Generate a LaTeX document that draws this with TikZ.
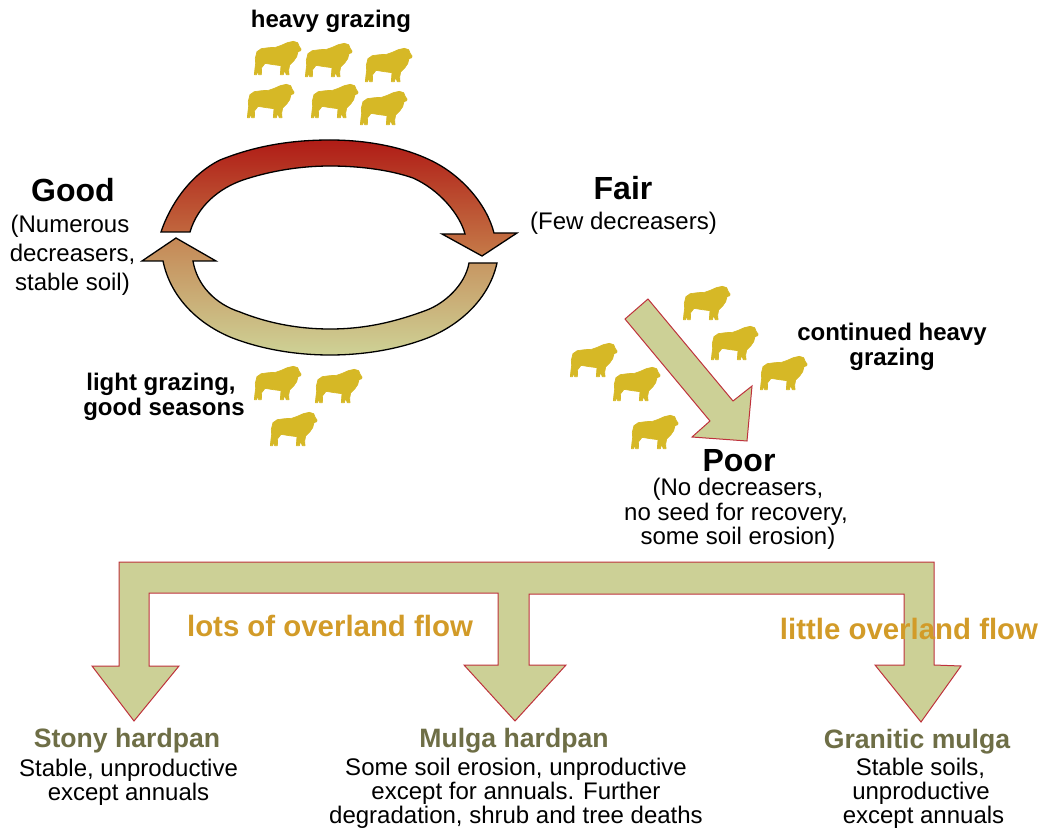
\documentclass[tikz,border=0pt]{standalone}
\usepackage{fontspec}
\setmainfont{Liberation Sans}
\definecolor{sheepc}{RGB}{214,184,38}
\definecolor{armc}{RGB}{204,208,150}
\definecolor{armline}{RGB}{190,50,60}
\definecolor{flowc}{RGB}{210,155,40}
\definecolor{soilc}{RGB}{110,110,70}
\definecolor{loopa}{RGB}{176,28,22}
\definecolor{loopb}{RGB}{197,122,72}
\definecolor{loopc}{RGB}{197,135,85}
\definecolor{loopd}{RGB}{206,210,150}
\tikzset{
  x=1pt,y=-1pt,
  sheep/.pic={
    \filldraw[sheepc,line width=0.7pt,line join=round,x=0.3333pt,y=-0.3333pt] (1,-1) -- (3,-20) -- (5,-35) -- (4,-50) -- (9,-70) -- (22,-79) -- (45,-82) -- (65,-83) -- (82,-89) -- (100,-97) -- (118,-101) -- (131,-97) -- (136,-85) -- (141,-78) -- (140,-73) -- (132,-70) -- (128,-55) -- (119,-42) -- (107,-30) -- (104,-15) -- (105,-1) -- (97,-1) -- (92,-14) -- (88,-1) -- (79,-1) -- (81,-28) -- (58,-31) -- (33,-35) -- (23,-22) -- (22,-1) -- (14,-1) -- (11,-13) -- (8,-1) -- cycle;
  },
  bodytext/.style={inner sep=0pt,align=center,font=\fontsize{24}{24}\selectfont},
  widetext/.style={inner sep=0pt,align=center,font=\fontsize{24}{29}\selectfont},
  boldtext/.style={inner sep=0pt,align=center,font=\bfseries\fontsize{24}{24.5}\selectfont},
  statetext/.style={inner sep=0pt,font=\bfseries\fontsize{32}{36}\selectfont},
  flowtext/.style={inner sep=0pt,text=flowc,font=\bfseries\fontsize{29.4}{32}\selectfont},
  soiltext/.style={inner sep=0pt,text=soilc,font=\bfseries\fontsize{26.6}{30}\selectfont},
  flowarrow/.style={fill=armc,draw=armline,line width=1pt,line join=miter},
  looparrow/.style={draw=black,line width=1.3pt,line join=miter},
}
\begin{document}
\begin{tikzpicture}
\useasboundingbox (0,0) rectangle (1053,829);
% loop arrows
\shadedraw[looparrow,top color=loopa,bottom color=loopb]
  (161,232) .. controls (170,205) and (190,175) .. (220,160)
  .. controls (255,146) and (290,140) .. (330,140)
  .. controls (370,140) and (405,148) .. (430,160)
  .. controls (462,175) and (487,205) .. (494,233)
  -- (517,233) -- (482,256) -- (442,234) -- (465,234)
  .. controls (460,215) and (440,190) .. (413,178)
  .. controls (390,170) and (360,166) .. (330,166)
  .. controls (300,166) and (270,171) .. (243,180)
  .. controls (220,188) and (198,205) .. (190,232) -- cycle;
\shadedraw[looparrow,top color=loopc,bottom color=loopd]
  (497,263) -- (469,263)
  .. controls (465,285) and (445,303) .. (427,310)
  .. controls (395,322) and (365,329) .. (330,329)
  .. controls (295,329) and (265,322) .. (240,312)
  .. controls (215,304) and (197,285) .. (193,261)
  -- (216,261) -- (176,238) -- (142,261) -- (163,261)
  .. controls (170,295) and (195,322) .. (230,337)
  .. controls (260,349) and (295,355) .. (330,355)
  .. controls (365,355) and (400,349) .. (430,337)
  .. controls (465,322) and (490,295) .. (497,263) -- cycle;
% sheep
\foreach \px/\py in {254/75,305/77,365/82,247/118,311/118,360/125,
                     254/400,315/403,270/446,
                     683/320,711/360,760/390,570/377,613/401,631/449}
  \pic at (\px,\py) {sheep};
% flow arrows
\draw[flowarrow] (625,319) -- (648,299) -- (733,401) -- (752,386) -- (747,441) -- (692,437) -- (710,421) -- cycle;
\draw[flowarrow] (119,562) -- (934,562) -- (934,665) -- (961,666) -- (921,722) -- (875,665) -- (904,665) -- (904,594) -- (529,594) -- (529,665) -- (566,665) -- (515,721) -- (464,665) -- (498,665) -- (498,593) -- (149,593) -- (149,666) -- (179,666) -- (134,721) -- (92,666) -- (119,666) -- cycle;
% texts
\node[boldtext] (heavy) at (331,21) {heavy grazing};
\node[statetext] (good) at (73,190) {Good};
\node[widetext] (goodsub) at (72.5,255) {(Numerous\kern5pt\\decreasers,\\stable soil)};
\node[statetext] (fair) at (623,188) {Fair};
\node[bodytext] (fairsub) at (623.5,223) {(Few decreasers)};
\node[boldtext] (light) at (164,397) {light grazing,\kern6pt\\good seasons};
\node[boldtext] (cont) at (892,347) {continued heavy\\grazing};
\node[statetext] (poor) at (739,461) {Poor};
\node[bodytext,font=\fontsize{24}{24.5}\selectfont] (poorsub) at (736,514) {\hspace{4pt}(No decreasers,\\no seed for recovery,\\\hspace{4pt}some soil erosion)};
\node[flowtext] (lots) at (330,626) {lots of overland flow};
\node[flowtext] (little) at (909,629) {little overland flow};
\node[soiltext] (stony) at (127,741) {Stony hardpan};
\node[bodytext] (stonysub) at (128.5,782) {Stable, unproductive\\except annuals};
\node[soiltext] (mulga) at (514,741) {Mulga hardpan};
\node[bodytext] (mulgasub) at (516,793) {Some soil erosion, unproductive\\except for annuals. Further\\degradation, shrub and tree deaths};
\node[soiltext] (granitic) at (917,742) {Granitic mulga};
\node[bodytext] (granitesub) at (922,793) {Stable soils,\kern3pt\\unproductive\kern2pt\\\hspace{3pt}except annuals};
\end{tikzpicture}
\end{document}
